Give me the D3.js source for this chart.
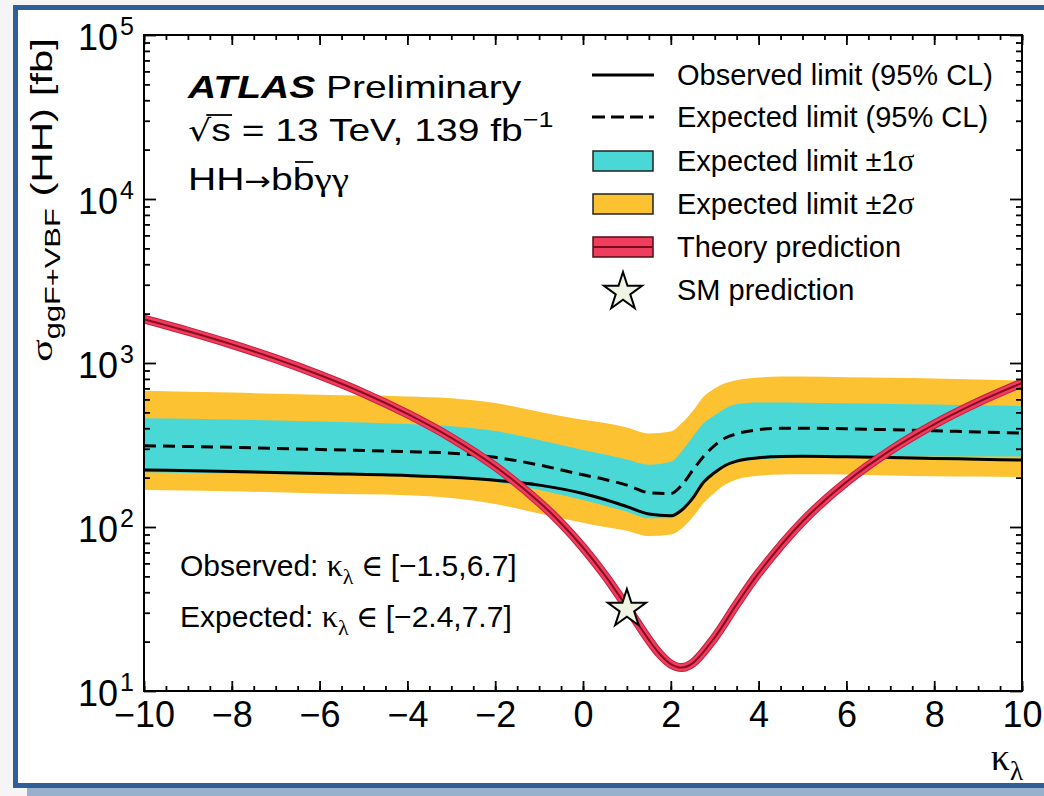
<!DOCTYPE html>
<html><head><meta charset="utf-8">
<script src="https://cdn.jsdelivr.net/npm/d3@7"></script>
<style>
body{margin:0;background:#f5f5f5;overflow:hidden;}
svg{display:block;}
text{font-family:"Liberation Sans", Arial, sans-serif;fill:#000;}
.gr{font-family:"Liberation Serif","DejaVu Serif",serif;}
</style></head><body>
<svg id="c" width="1044" height="796"></svg>
<script>
// ---- data ----
const kappa    = [-10,-8,-6,-4,-3,-2,-1,0,0.5,1,1.5,2,2.25,2.5,2.75,3,3.25,3.5,4,4.5,5,6,7,8,9,10];
const observed = [223,218,212,206,201,193,180,160,147,133,120,117,127,150,188,215,238,252,264,269,270,268,265,262,259,256];
const expected = [313,306,297,288,282,266,239,208,195,180,162,160,180,222,270,315,350,370,392,400,400,397,392,386,380,374];
const plus1    = [460,452,440,425,412,385,339,295,277,258,240,250,290,355,430,480,530,560,575,575,573,568,563,558,552,547];
const minus1   = [216,212,208,205,200,188,168,146,135,124,113,113,125,150,185,212,235,247,258,263,266,268,269,269,269,269];
const plus2    = [678,660,640,625,610,570,505,450,430,405,372,382,430,510,625,700,755,785,815,826,826,820,813,805,793,780];
const minus2   = [168,165,160,156,150,138,121,106,100,95,88,90,98,115,140,162,182,195,205,209,210,209,206,204,203,202];
const theoryK  = [-10,-9,-8,-7,-6,-5,-4,-3,-2,-1,-0.5,0,0.5,1,1.5,1.75,2,2.25,2.5,3,3.5,4,5,6,7,8,9,10];
const theory   = [1850,1562,1299,1060,845,656,490,350,234,142,105.5,75,50.7,32.5,20.5,16.8,14.6,13.9,14.8,21.2,33.8,52.4,108,188,293,423,577,755];
const smK = [1], smV = [32.5];
const xTicks = [-10,-8,-6,-4,-2,0,2,4,6,8,10];
const yTickExp = [1,2,3,4,5];
const legendLabels = ["Observed limit (95% CL)","Expected limit (95% CL)","Expected limit \u00b11\u03c3","Expected limit \u00b12\u03c3","Theory prediction","SM prediction"];

// ---- setup ----
const svg = d3.select("#c");
const L=144, R=1022, T=35, B=691;
const x = d3.scaleLinear().domain([-10,10]).range([L,R]);
const y = d3.scaleLog().domain([10,1e5]).range([B,T]);

// slide frame
svg.append("rect").attr("x",27).attr("y",788).attr("width",1100).attr("height",10).attr("fill","#98b0cb");
svg.append("rect").attr("x",15.5).attr("y",7.5).attr("width",1100).attr("height",778)
  .attr("fill","#fff").attr("stroke","#2e5f98").attr("stroke-width",5);

const defs = svg.append("defs");
defs.append("clipPath").attr("id","clip").append("rect").attr("x",L).attr("y",T).attr("width",R-L).attr("height",B-T);
const plot = svg.append("g").attr("clip-path","url(#clip)");

const rows = kappa.map((k,i)=>({k,obs:observed[i],exp:expected[i],p1:plus1[i],m1:minus1[i],p2:plus2[i],m2:minus2[i]}));
const cv = d3.curveMonotoneX;
const band = (lo,hi)=>d3.area().x(d=>x(d.k)).y0(d=>y(d[lo])).y1(d=>y(d[hi])).curve(cv);
plot.append("path").datum(rows).attr("d",band("m2","p2")).attr("fill","#fcc232");
plot.append("path").datum(rows).attr("d",band("m1","p1")).attr("fill","#4ad8d6");
const line = key=>d3.line().x(d=>x(d.k)).y(d=>y(d[key])).curve(cv);
plot.append("path").datum(rows).attr("d",line("exp")).attr("fill","none").attr("stroke","#000").attr("stroke-width",3).attr("stroke-dasharray","12,7");
plot.append("path").datum(rows).attr("d",line("obs")).attr("fill","none").attr("stroke","#000").attr("stroke-width",3);

const th = theoryK.map((k,i)=>({k,v:theory[i]}));
const tl = d3.line().x(d=>x(d.k)).y(d=>y(d.v)).curve(d3.curveCatmullRom);
plot.append("path").datum(th).attr("d",tl).attr("fill","none").attr("stroke","#c81f40").attr("stroke-width",9);
plot.append("path").datum(th).attr("d",tl).attr("fill","none").attr("stroke","#ef3d5e").attr("stroke-width",7);
plot.append("path").datum(th).attr("d",tl).attr("fill","none").attr("stroke","#8a0c22").attr("stroke-width",2);

// SM star
const star = d3.symbol(d3.symbolStar).size(450);
svg.selectAll(".sm").data(smK.map((k,i)=>({k,v:smV[i]}))).join("path")
  .attr("transform",d=>`translate(${x(d.k)},${y(d.v)+2})`).attr("d",star)
  .attr("fill","#eef3e3").attr("stroke","#000").attr("stroke-width",2);

// ---- axes ----
function styleAxis(g){ g.select(".domain").remove(); g.selectAll("line").attr("stroke","#000").attr("stroke-width",1.8); }
const minorX = d3.range(-10,10.001,0.5);
svg.append("g").attr("transform",`translate(0,${B})`)
  .call(d3.axisBottom(x).tickValues(xTicks).tickSize(-10).tickPadding(10))
  .call(styleAxis).call(g=>g.selectAll("text").attr("font-size",36).attr("font-family","Liberation Sans"));
svg.append("g").attr("transform",`translate(0,${B})`).call(d3.axisBottom(x).tickValues(minorX).tickSize(-5).tickFormat("")).call(styleAxis);
svg.append("g").attr("transform",`translate(0,${T})`).call(d3.axisTop(x).tickValues(xTicks).tickSize(-10).tickFormat("")).call(styleAxis);
svg.append("g").attr("transform",`translate(0,${T})`).call(d3.axisTop(x).tickValues(minorX).tickSize(-5).tickFormat("")).call(styleAxis);

const majY = yTickExp.map(e=>Math.pow(10,e));
const minY = [];
yTickExp.slice(0,-1).forEach(e=>{ for(let m=2;m<=9;m++) minY.push(m*Math.pow(10,e)); });
svg.append("g").attr("transform",`translate(${L},0)`).call(d3.axisLeft(y).tickValues(majY).tickSize(-12).tickFormat("")).call(styleAxis);
svg.append("g").attr("transform",`translate(${L},0)`).call(d3.axisLeft(y).tickValues(minY).tickSize(-6).tickFormat("")).call(styleAxis);
svg.append("g").attr("transform",`translate(${R},0)`).call(d3.axisRight(y).tickValues(majY).tickSize(-12).tickFormat("")).call(styleAxis);
svg.append("g").attr("transform",`translate(${R},0)`).call(d3.axisRight(y).tickValues(minY).tickSize(-6).tickFormat("")).call(styleAxis);

yTickExp.forEach(e=>{
  const yy = y(Math.pow(10,e));
  svg.append("text").attr("x",118).attr("y",yy+15).attr("text-anchor","end").attr("font-size",36).text("10");
  svg.append("text").attr("x",120).attr("y",yy).attr("font-size",25).text(e);
});

svg.append("rect").attr("x",L).attr("y",T).attr("width",R-L).attr("height",B-T).attr("fill","none").attr("stroke","#000").attr("stroke-width",2);

// axis titles
const yt = svg.append("text").attr("transform","translate(52,38) rotate(-90) scale(1.4,1)").attr("text-anchor","end").attr("font-size",30);
yt.append("tspan").attr("class","gr").text("\u03c3");
yt.append("tspan").attr("font-size",22).attr("dy",8).text("ggF+VBF");
yt.append("tspan").attr("dy",-8).text(" (HH) [fb]");

const xt = svg.append("text").attr("x",1023).attr("y",770).attr("text-anchor","end").attr("class","gr").attr("font-size",38);
xt.append("tspan").text("\u03ba");
xt.append("tspan").attr("font-size",27).attr("dy",10).text("\u03bb");

// ATLAS label
const lab = svg.append("g").attr("transform","translate(188,98) scale(1.22,1)");
const r1 = lab.append("text").attr("font-size",32);
r1.append("tspan").attr("font-weight","bold").attr("font-style","italic").text("ATLAS");
r1.append("tspan").text(" Preliminary");
const r2 = lab.append("text").attr("y",43).attr("font-size",32);
r2.append("tspan").attr("font-family","DejaVu Sans").attr("font-size",30).text("\u221a");
r2.append("tspan").text("s");
r2.append("tspan").text(" = 13 TeV, 139 fb");
r2.append("tspan").attr("font-size",22).attr("dy",-14).text("\u22121");
const r3 = lab.append("text").attr("y",92).attr("font-size",32);
r3.append("tspan").text("HH");
r3.append("tspan").attr("font-family","DejaVu Sans").attr("font-size",26).text("\u2192");
r3.append("tspan").text("bb");
r3.append("tspan").attr("class","gr").text("\u03b3\u03b3");
// overlines
(function(){
  const n2 = r2.node();
  const sE = n2.getEndPositionOfChar(1), rS = n2.getStartPositionOfChar(0);
  lab.append("line").attr("x1",rS.x+15).attr("x2",sE.x+1).attr("y1",43-26).attr("y2",43-26).attr("stroke","#000").attr("stroke-width",1.8);
  const n3 = r3.node();
  const bS = n3.getStartPositionOfChar(4), bE = n3.getEndPositionOfChar(4);
  lab.append("line").attr("x1",bS.x+2).attr("x2",bE.x-1).attr("y1",92-28).attr("y2",92-28).attr("stroke","#000").attr("stroke-width",1.8);
})();

// legend
const legY = [75,117,161,204,247,290];
const lg = svg.append("g");
lg.append("line").attr("x1",592).attr("x2",654).attr("y1",legY[0]).attr("y2",legY[0]).attr("stroke","#000").attr("stroke-width",3);
lg.append("line").attr("x1",592).attr("x2",654).attr("y1",legY[1]).attr("y2",legY[1]).attr("stroke","#000").attr("stroke-width",3).attr("stroke-dasharray","13,6");
lg.append("rect").attr("x",593).attr("y",legY[2]-10).attr("width",60).attr("height",20).attr("fill","#4ad8d6").attr("stroke","#222").attr("stroke-width",1.5);
lg.append("rect").attr("x",593).attr("y",legY[3]-10).attr("width",60).attr("height",20).attr("fill","#fcc232").attr("stroke","#222").attr("stroke-width",1.5);
lg.append("rect").attr("x",593).attr("y",legY[4]-10).attr("width",60).attr("height",20).attr("fill","#ef3d5e").attr("stroke","#5a0a16").attr("stroke-width",1.5);
lg.append("line").attr("x1",593).attr("x2",653).attr("y1",legY[4]).attr("y2",legY[4]).attr("stroke","#7a0a1c").attr("stroke-width",2);
lg.append("path").attr("transform",`translate(623,${legY[5]+2})`).attr("d",star).attr("fill","#eef3e3").attr("stroke","#000").attr("stroke-width",2);
legendLabels.forEach((t,i)=>{
  const tx = lg.append("text").attr("x",677).attr("y",legY[i]+10).attr("font-size",29);
  if(t.endsWith("\u03c3")){
    tx.append("tspan").text(t.slice(0,-1));
    tx.append("tspan").attr("class","gr").attr("font-size",31).text("\u03c3");
  } else tx.text(t);
});

// annotations
function kappaText(yy, pre, rng){
  const t = svg.append("text").attr("x",180).attr("y",yy).attr("font-size",30);
  t.append("tspan").text(pre+" ");
  t.append("tspan").attr("class","gr").attr("font-size",32).text("\u03ba");
  t.append("tspan").attr("class","gr").attr("font-size",22).attr("dy",8).text("\u03bb");
  t.append("tspan").attr("class","gr").attr("dy",-8).text(" \u2208 ");
  t.append("tspan").text(rng);
}
kappaText(576,"Observed:","[\u22121.5,6.7]");
kappaText(627,"Expected:","[\u22122.4,7.7]");
</script>
</body></html>
